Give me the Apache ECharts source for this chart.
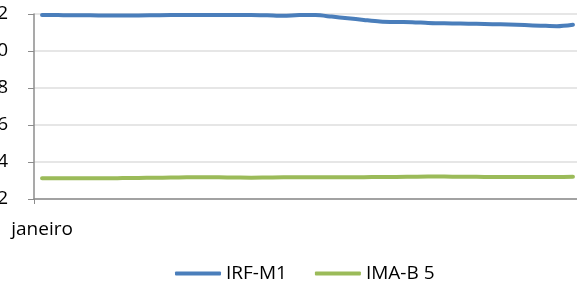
<!DOCTYPE html>
<html>
<head>
<meta charset="utf-8">
<script src="https://cdn.jsdelivr.net/npm/echarts@6/dist/echarts.min.js"></script>
<style>
  html, body { margin: 0; padding: 0; background: #fff; }
  #chart { width: 577px; height: 302px; }
</style>
</head>
<body>
<div id="chart"></div>
<script>
// dados (um ponto por dia útil, só o primeiro rotulado)
const categorias = [
  "janeiro", "", "", "", "", "", "", "", "", "", "", "", "", "", "", "", "",
  "", "", "", "", "", "", "", "", "", "", "", "", "", "", "", "", ""
];
const irfM1 = [
  11.95, 11.94, 11.93, 11.93, 11.92, 11.92, 11.92, 11.93, 11.94, 11.94,
  11.95, 11.95, 11.95, 11.95, 11.93, 11.90, 11.95, 11.94, 11.86, 11.77,
  11.68, 11.60, 11.57, 11.56, 11.52, 11.50, 11.48, 11.47, 11.45, 11.43,
  11.40, 11.37, 11.34, 11.42
];
const imaB5 = [
  3.12, 3.12, 3.12, 3.12, 3.12, 3.13, 3.14, 3.15, 3.16, 3.17,
  3.18, 3.17, 3.16, 3.15, 3.16, 3.17, 3.17, 3.17, 3.17, 3.18,
  3.18, 3.19, 3.19, 3.20, 3.21, 3.21, 3.20, 3.20, 3.19, 3.19,
  3.19, 3.19, 3.19, 3.20
];
const yTicks = { min: 2, max: 12, interval: 2 };

const fonte = "'Open Sans', 'Liberation Sans', sans-serif";
const azul = "#4a7ebb";
const verde = "#9bbb59";
const cinza = "#8c8c8c";

const chart = echarts.init(document.getElementById("chart"), null, { renderer: "canvas" });

const option = {
  animation: false,
  backgroundColor: "#fff",
  textStyle: { fontFamily: fonte },
  grid: {
    left: 34,
    right: -4,
    top: 14,
    bottom: 103,
    containLabel: false,
    outerBoundsMode: "none"
  },
  legend: {
    left: 170,
    top: 259,
    itemWidth: 46,
    itemHeight: 4,
    itemGap: 28,
    icon: "roundRect",
    textStyle: { fontFamily: fonte, fontSize: 19, color: "#000" },
    data: [
      { name: "IRF-M1", itemStyle: { color: azul } },
      { name: "IMA-B 5", itemStyle: { color: verde } }
    ]
  },
  xAxis: {
    type: "category",
    data: categorias,
    boundaryGap: true,
    axisLine: { lineStyle: { color: cinza, width: 1.5 } },
    axisTick: {
      show: true,
      length: 5,
      interval: (i) => i === 0,
      lineStyle: { color: cinza }
    },
    axisLabel: {
      interval: 0,
      margin: 21,
      fontFamily: fonte,
      fontSize: 19,
      color: "#000"
    },
    splitLine: { show: false }
  },
  yAxis: {
    type: "value",
    min: yTicks.min,
    max: yTicks.max,
    interval: yTicks.interval,
    axisLine: { show: true, lineStyle: { color: cinza, width: 1.5 } },
    axisTick: { show: true, length: 6, inside: false, lineStyle: { color: cinza } },
    axisLabel: {
      margin: 26,
      fontFamily: fonte,
      fontSize: 19,
      color: "#000"
    },
    splitLine: { show: true, lineStyle: { color: "#dedede", width: 1.5 } }
  },
  series: [
    {
      name: "IRF-M1",
      type: "line",
      data: irfM1,
      smooth: 0.3,
      showSymbol: false,
      color: azul,
      lineStyle: { color: azul, width: 4, cap: "round", join: "round" }
    },
    {
      name: "IMA-B 5",
      type: "line",
      data: imaB5,
      smooth: 0.3,
      showSymbol: false,
      color: verde,
      lineStyle: { color: verde, width: 4, cap: "round", join: "round" }
    }
  ]
};

chart.setOption(option);
</script>
</body>
</html>
